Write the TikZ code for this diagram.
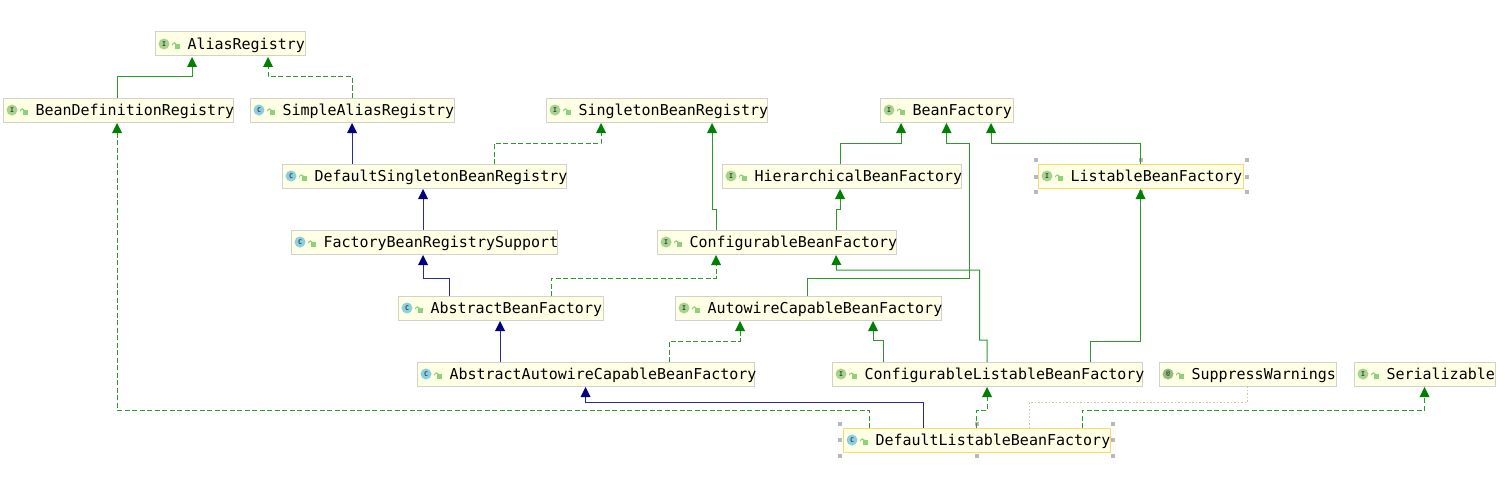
\documentclass[tikz,border=0pt]{standalone}
\usepackage{fontspec}
\setmainfont{DejaVu Sans Mono}
\usetikzlibrary{arrows.meta}
\definecolor{inhgreen}{HTML}{2E982E}
\definecolor{tipgreen}{HTML}{008000}
\definecolor{extblue}{HTML}{2A2A9C}
\definecolor{tipblue}{HTML}{000080}
\definecolor{nodefill}{HTML}{FFFFE6}
\definecolor{nodeedge}{HTML}{D2D2CC}
\definecolor{seledge}{HTML}{FFD966}
\definecolor{ifacecol}{HTML}{A5D48C}
\definecolor{classcol}{HTML}{8AD0E0}
\definecolor{annotcol}{HTML}{8FBF7A}
\definecolor{lockcol}{HTML}{8FD07A}
\definecolor{dotcol}{HTML}{C8C89A}
\definecolor{handlecol}{HTML}{B8B8B8}
\tikzset{
  box/.style={draw=nodeedge,fill=nodefill,line width=1pt,inner sep=0pt,outer sep=0pt},
  selbox/.style={box,draw=seledge},
  lbl/.style={inner sep=0pt,outer sep=0pt,text=black,font=\fontsize{15}{18}\selectfont,anchor=base west},
  ico/.style={circle,inner sep=0pt,minimum size=11pt,text=black!75,font=\fontsize{6.5}{7}\selectfont\bfseries},
  lockarc/.style={draw=lockcol,line width=1pt},
  impl/.style={line width=1pt,draw=inhgreen,shorten >=1pt,-{Triangle[length=10pt,width=10pt,fill=tipgreen,color=tipgreen,line width=0pt]}},
  impld/.style={impl,dash pattern=on 5pt off 2.5pt},
  blueext/.style={line width=1pt,draw=extblue,shorten >=1pt,-{Triangle[length=10pt,width=10pt,fill=tipblue,color=tipblue,line width=0pt]}},
  dotdep/.style={draw=dotcol,line width=1pt,dash pattern=on 1.5pt off 2pt},
}
% id, x0, x1, ytop, letter, colour, text, box style
\newcommand{\cls}[8]{%
  \node[#8,minimum width=#3pt-#2pt,minimum height=24pt,anchor=north west] (#1) at (#2,#4) {};
  \node[ico,fill=#6] (#1-i) at ([xshift=9pt]#1.west) {#5};
  \fill[lockcol] ([xshift=20pt,yshift=-5pt]#1.west) rectangle ([xshift=25pt,yshift=0pt]#1.west);
  \draw[lockarc] ([xshift=17.5pt,yshift=0.5pt]#1.west) -- ++(0,-1pt) arc[start angle=180,end angle=0,radius=1.7pt] -- ++(0,1.5pt);
  \node[lbl] (#1-t) at ([xshift=32.5pt,yshift=-5.5pt]#1.west) {#7};
}
\begin{document}
\begin{tikzpicture}[x=1pt,y=-1pt]
\useasboundingbox (0,0) rectangle (1505,487);
\cls{alias}{155}{305}{32}{I}{ifacecol}{AliasRegistry}{box}
\cls{bdr}{3}{233}{98}{I}{ifacecol}{BeanDefinitionRegistry}{box}
\cls{simple}{250}{454}{98}{C}{classcol}{SimpleAliasRegistry}{box}
\cls{singleton}{546}{767}{98}{I}{ifacecol}{SingletonBeanRegistry}{box}
\cls{bf}{880}{1013}{98}{I}{ifacecol}{BeanFactory}{box}
\cls{dsbr}{282}{566}{164}{C}{classcol}{DefaultSingletonBeanRegistry}{box}
\cls{hbf}{722}{961}{164}{I}{ifacecol}{HierarchicalBeanFactory}{box}
\cls{lbf}{1038}{1243}{164}{I}{ifacecol}{ListableBeanFactory}{selbox}
\cls{fbrs}{291}{557}{230}{C}{classcol}{FactoryBeanRegistrySupport}{box}
\cls{cbf}{657}{896}{230}{I}{ifacecol}{ConfigurableBeanFactory}{box}
\cls{abf}{398}{603}{296}{C}{classcol}{AbstractBeanFactory}{box}
\cls{acbf}{675}{941}{296}{I}{ifacecol}{AutowireCapableBeanFactory}{box}
\cls{aacbf}{417}{754}{362}{C}{classcol}{AbstractAutowireCapableBeanFactory}{box}
\cls{clbf}{832}{1142}{362}{I}{ifacecol}{ConfigurableListableBeanFactory}{box}
\cls{sw}{1159}{1336}{362}{@}{annotcol}{SuppressWarnings}{box}
\cls{ser}{1354}{1495}{362}{I}{ifacecol}{Serializable}{box}
\cls{dlbf}{843}{1110}{428}{C}{classcol}{DefaultListableBeanFactory}{selbox}

\foreach \hx/\hy in {1036/160,1141/160,1247/160,1036/176.5,1247/176.5,1036/192,1141/192,1247/192,
                     840/424,977/424,1113/424,840/440,1113/440,840/456,977/456,1113/456}
  \fill[handlecol] (\hx-2,\hy-2) rectangle (\hx+2,\hy+2);

\draw[impl] ([xshift=-1pt]bdr.north) -- ++(0,-21) -| ([xshift=-38pt]alias.south);
\draw[impld] (simple.north) -- ++(0,-21) -| ([xshift=38pt]alias.south);
\draw[blueext] ([xshift=-72pt]dsbr.north) -- (simple.south);
\draw[impld] ([xshift=70pt]dsbr.north) -- ++(0,-21) -| ([xshift=-55.5pt]singleton.south);
\draw[blueext] ([xshift=-1pt]fbrs.north) -- ([xshift=-1pt]dsbr.south);
\draw[impl] ([xshift=-60.5pt]cbf.north) -- ++(0,-21) -| ([xshift=55.5pt]singleton.south);
\draw[blueext] ([xshift=-51.5pt]abf.north) -- ++(0,-18) -| ([xshift=-1pt]fbrs.south);
\draw[impld] ([xshift=50.5pt]abf.north) -- ++(0,-18) -| ([xshift=-60.5pt]cbf.south);
\draw[impl] ([xshift=-1.5pt]hbf.north) -- ++(0,-21) -| ([xshift=-45.5pt]bf.south);
\draw[impl] (lbf.north) -- ++(0,-21) -| ([xshift=44.5pt]bf.south);
\draw[impl] ([xshift=59.5pt]cbf.north) -- ++(0,-21) -| ([xshift=-1.5pt]hbf.south);
\draw[impl] ([xshift=-1pt]acbf.north) -- ++(0,-18) -- ++(162.5,0) -- ++(0,-135) -- ++(-23,0) -- (bf.south);
\draw[impl] (clbf.north) -- ++(0,-22) -- ++(-7.5,0) -- ++(0,-70) -- ++(-143,0) -- ([xshift=59.5pt]cbf.south);
\draw[impl] ([xshift=-104pt]clbf.north) -- ++(0,-22) -| ([xshift=65pt]acbf.south);
\draw[impl] ([xshift=103pt]clbf.north) -- ++(0,-21) -| (lbf.south);
\draw[blueext] ([xshift=-0.5pt]abf.north |- aacbf.north) -- ([xshift=-0.5pt]abf.south);
\draw[impld] ([xshift=83.5pt]aacbf.north) -- ++(0,-21) -| ([xshift=-68pt]acbf.south);
\draw[blueext] ([xshift=-53.5pt]dlbf.north) -- ++(0,-26) -| (aacbf.south);
\draw[impld] ([xshift=-107.5pt]dlbf.north) -- ++(0,-18) -| ([xshift=-1pt]bdr.south);
\draw[impld] (dlbf.north) -- ++(0,-18) -| (clbf.south);
\draw[dotdep] ([xshift=52.5pt]dlbf.north) -- ++(0,-26) -| (sw.south);
\draw[impld] ([xshift=105.5pt]dlbf.north) -- ++(0,-18) -| (ser.south);
\end{tikzpicture}
\end{document}
